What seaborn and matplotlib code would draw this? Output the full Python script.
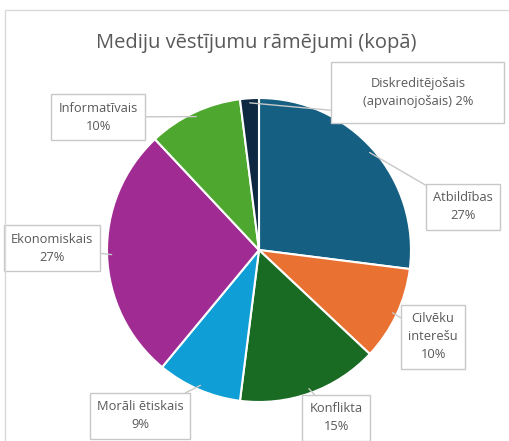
import matplotlib
matplotlib.use("Agg")
import matplotlib.pyplot as plt
import seaborn as sns
import numpy as np
from matplotlib.patches import Rectangle

categories = ["Atbildības", "Cilvēku\ninterešu", "Konflikta", "Morāli ētiskais",
              "Ekonomiskais", "Informatīvais", "Diskreditējošais\n(apvainojošais)"]
values = [27, 10, 15, 9, 27, 10, 2]
colors = ["#156082", "#E97132", "#196B24", "#0F9ED5", "#A02B93", "#4EA72E", "#0E2841"]
label_pos = [(1.342, 0.283), (1.145, -0.572), (0.507, -1.105), (-0.783, -1.092),
             (-1.362, 0.013), (-1.059, 0.875), (1.046, 1.039)]
title = "Mediju vēstījumu rāmējumi (kopā)"

sns.set_theme(style="white")
plt.rcParams['font.family'] = ['Open Sans', 'DejaVu Sans']

W, H = 509, 441
fig = plt.figure(figsize=(W / 100, H / 100), dpi=100)
fig.patch.set_facecolor("white")
fig.patches.append(Rectangle((5 / W, -0.1), 1.2, (H - 10) / H + 0.1, transform=fig.transFigure,
                             fill=False, edgecolor="#d9d9d9", linewidth=1.0, zorder=0))

cx, cy, R = 259, 250, 152
ax = fig.add_axes([(cx - R) / W, (H - cy - R) / H, 2 * R / W, 2 * R / H])
wedges, _ = ax.pie(values, colors=colors, startangle=90, counterclock=False, radius=1,
                   wedgeprops=dict(edgecolor="white", linewidth=1.5))
ax.set_xlim(-1, 1)
ax.set_ylim(-1, 1)
ax.set_aspect("equal")
ax.axis("off")

total = sum(values)
start = 90.0
for cat, v, w, (lx, ly) in zip(categories, values, wedges, label_pos):
    ang = start - v / total * 360 / 2
    start -= v / total * 360
    a = np.deg2rad(ang)
    px, py = 0.97 * np.cos(a), 0.97 * np.sin(a)
    disk = cat.startswith("Diskred")
    sep = " " if disk else "\n"
    txt = f"{cat}{sep}{v}%"
    if disk:
        bw, bh = 173 / R, 61 / R
        ax.add_patch(Rectangle((lx - bw / 2, ly - bh / 2), bw, bh, fc="white", ec="#c8c8c8",
                               lw=1.0, clip_on=False, zorder=3))
        ax.plot([lx - bw / 2, px], [ly - 0.12, py], color="#c8c8c8", lw=1.0,
                clip_on=False, zorder=2.5)
        ax.text(lx, ly, txt, ha="center", va="center", fontsize=9.3, color="#595959",
                linespacing=1.5, zorder=4, clip_on=False)
    else:
        ax.annotate(txt, xy=(px, py), xytext=(lx, ly), ha="center", va="center",
                    fontsize=9.3, color="#595959", annotation_clip=False, linespacing=1.5,
                    bbox=dict(boxstyle="square,pad=0.55", fc="white", ec="#c8c8c8", lw=1.0),
                    arrowprops=dict(arrowstyle="-", color="#c8c8c8", lw=1.0,
                                    shrinkA=0, shrinkB=0))

fig.text(256 / W, 1 - 43 / H, title, ha="center", va="center", fontsize=14.5, color="#595959")
fig.savefig("out.png", dpi=100)
